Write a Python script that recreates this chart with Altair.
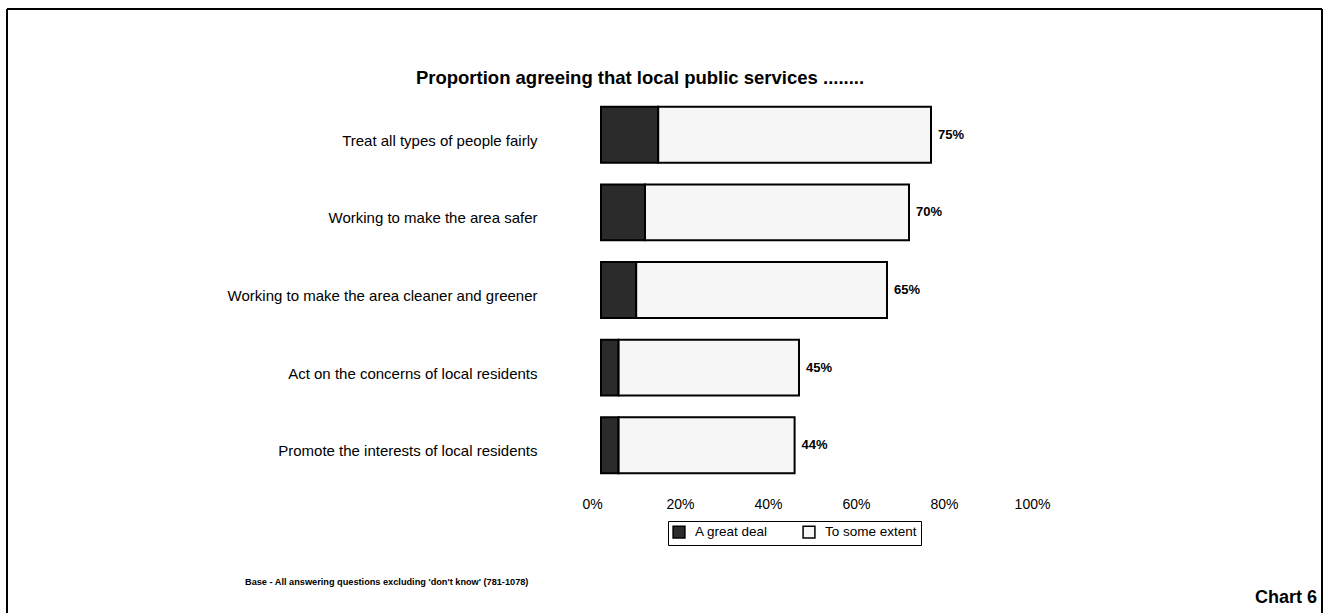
import altair as alt
import pandas as pd

statements = [
    "Treat all types of people fairly",
    "Working to make the area safer",
    "Working to make the area cleaner and greener",
    "Act on the concerns of local residents",
    "Promote the interests of local residents",
]
great_deal = [13, 10, 8, 4, 4]
some_extent = [62, 60, 57, 41, 40]
totals = [75, 70, 65, 45, 44]
series = ["A great deal", "To some extent"]
x_ticks = [0, 20, 40, 60, 80, 100]

title_text = "Proportion agreeing that local public services ........"
footnote = "Base - All answering questions excluding 'don't know' (781-1078)"
chart_label = "Chart 6"

rows = []
for s, g, e in zip(statements, great_deal, some_extent):
    rows.append({"statement": s, "series": series[0], "value": g, "ord": 0})
    rows.append({"statement": s, "series": series[1], "value": e, "ord": 1})
df = pd.DataFrame(rows)
tot = pd.DataFrame({"statement": statements, "total": totals,
                    "label": [f"{t}%" for t in totals]})

y_enc = alt.Y(
    "statement:N", sort=statements,
    scale=alt.Scale(paddingInner=0.28, paddingOuter=0.14),
    axis=alt.Axis(title=None, domain=False, ticks=False, labelPadding=64,
                  labelFontSize=15, labelColor="black", labelOffset=6,
                  labelLimit=500),
)
x_scale = alt.Scale(domain=[0, 100], nice=False)

bars = alt.Chart(df).mark_bar(stroke="black", strokeWidth=2).encode(
    x=alt.X("value:Q", stack="zero", scale=x_scale,
            axis=alt.Axis(values=x_ticks, labelExpr="datum.value + '%'",
                          title=None, domain=False, ticks=False, grid=False,
                          labelPadding=13, labelFontSize=14, labelColor="black",
                          labelOffset=-9, labelFlush=False)),
    y=y_enc,
    color=alt.Color("series:N",
                    scale=alt.Scale(domain=series, range=["#2b2b2b", "#f6f6f6"]),
                    legend=alt.Legend(title=None, orient="none", legendX=67, legendY=425,
                                      direction="horizontal", strokeColor="black",
                                      padding=4, symbolType="square", symbolSize=140,
                                      symbolStrokeColor="black", symbolStrokeWidth=1.5,
                                      labelFontSize=13.5, labelColor="black",
                                      columnPadding=32, labelOffset=9)),
    order=alt.Order("ord:Q"),
)

labels = alt.Chart(tot).mark_text(align="left", baseline="middle", dx=7,
                                  fontSize=13, fontWeight="bold", color="black").encode(
    x=alt.X("total:Q", scale=x_scale),
    y=alt.Y("statement:N", sort=statements),
    text="label:N",
)

one = pd.DataFrame({"k": [0]})
frame_left = alt.Chart(one).mark_rule(color="black", strokeWidth=2).encode(
    x=alt.value(-594), y=alt.value(-87), y2=alt.value(517))
frame_top = alt.Chart(one).mark_rule(color="black", strokeWidth=2).encode(
    x=alt.value(-594), x2=alt.value(721), y=alt.value(-87))
frame_right = alt.Chart(one).mark_rule(color="black", strokeWidth=2).encode(
    x=alt.value(721), y=alt.value(-87), y2=alt.value(517))

title = alt.Chart(one).mark_text(align="center", baseline="middle", fontSize=18.5,
                                 fontWeight="bold", color="black").encode(
    x=alt.value(39), y=alt.value(-18), text=alt.value(title_text))
foot = alt.Chart(one).mark_text(align="left", baseline="middle", fontSize=9.2,
                                fontWeight="bold", color="black").encode(
    x=alt.value(-356), y=alt.value(486), text=alt.value(footnote))
chart6 = alt.Chart(one).mark_text(align="right", baseline="middle", fontSize=18,
                                  fontWeight="bold", color="black").encode(
    x=alt.value(716), y=alt.value(502), text=alt.value(chart_label))

chart = alt.layer(bars, labels, frame_left, frame_top, frame_right, title, foot, chart6).properties(
    width=440, height=388,
    padding={"left": 601, "top": 96, "right": 284, "bottom": 129},
    autosize=alt.AutoSizeParams(type="none"),
).configure(font="Liberation Sans").configure_view(stroke=None)

chart.save("out.html", embed_options={"renderer": "svg", "actions": False})
